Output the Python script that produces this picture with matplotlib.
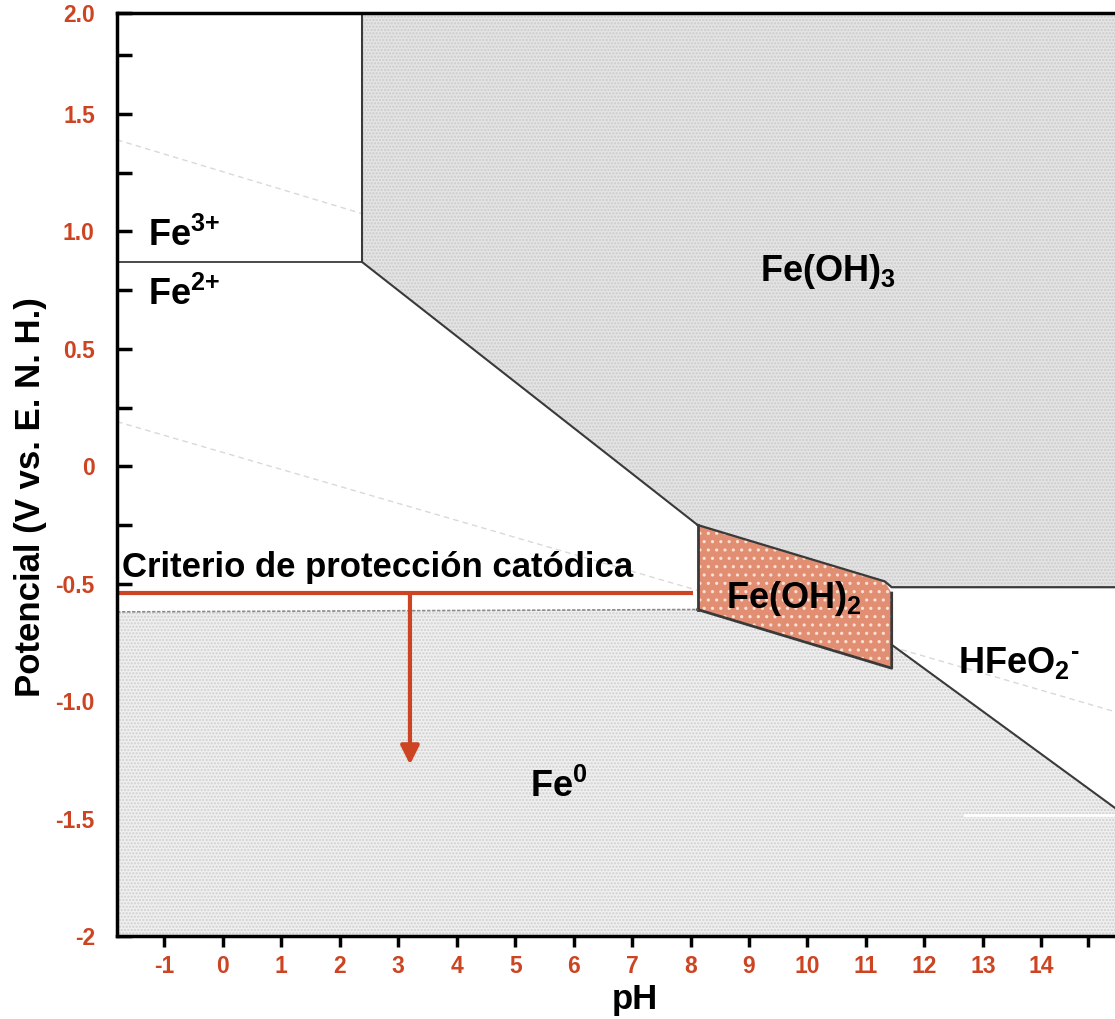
import matplotlib.pyplot as plt
from matplotlib.patches import Polygon

plt.rcParams['font.family'] = ['Liberation Sans', 'DejaVu Sans']
plt.rcParams['mathtext.fontset'] = 'custom'
plt.rcParams['mathtext.rm'] = 'Liberation Sans:bold'
plt.rcParams['mathtext.it'] = 'Liberation Sans:bold:italic'
plt.rcParams['mathtext.bf'] = 'Liberation Sans:bold'
plt.rcParams['hatch.linewidth'] = 1.1

# axis range / ticks
ph_min, ph_max = -1.81, 15.26
e_min, e_top = -2.0, 1.93
x_ticks = [-1, 0, 1, 2, 3, 4, 5, 6, 7, 8, 9, 10, 11, 12, 13, 14, 14.8]
x_labels = ['-1', '0', '1', '2', '3', '4', '5', '6', '7', '8', '9', '10', '11', '12', '13', '14', '']
y_ticks = [-2, -1.5, -1.0, -0.5, 0, 0.5, 1.0, 1.5, 1.93]
y_labels = ['-2', '-1.5', '-1.0', '-0.5', '0', '0.5', '1.0', '1.5', '2.0']
y_minor = [-1.75, -1.25, -0.75, -0.25, 0.25, 0.75, 1.25, 1.75]

# domain boundaries (pH, E)
fe3_fe2_ph = [ph_min, 2.38]
fe3_fe2_e = [0.87, 0.87]
feoh3_ph = [2.38, 2.38, 8.12, 11.32, 11.44, ph_max, ph_max]
feoh3_e = [e_top, 0.87, -0.25, -0.49, -0.515, -0.515, e_top]
feoh2_ph = [8.12, 11.32, 11.44, 11.44, 8.12]
feoh2_e = [-0.25, -0.49, -0.54, -0.86, -0.61]
fe0_ph = [ph_min, 8.12, 11.44, 11.44, ph_max, ph_max, ph_min]
fe0_e = [-0.62, -0.61, -0.86, -0.76, -1.455, e_min, e_min]
hfeo2_fe_ph = [11.44, ph_max]
hfeo2_fe_e = [-0.76, -1.455]

# water stability lines
o2_ph = [ph_min, ph_max]
o2_e = [1.39, 0.11]
h2_ph = [ph_min, ph_max]
h2_e = [0.19, -1.045]

# cathodic protection criterion
crit_ph = [ph_min, 8.04]
crit_e = [-0.54, -0.54]
arrow_ph = 3.2
arrow_e = [-0.54, -1.27]

# white streak in the Fe0 field
streak_ph = [12.7, ph_max]
streak_e = [-1.485, -1.485]

red = '#CC4422'
dark = '#3a3a3a'

fig = plt.figure(figsize=(11.15, 10.19), dpi=100)
ax = fig.add_axes([0.105, 0.0815, 0.895, 0.9057])

# faint water lines (under the fills)
ax.plot(o2_ph, o2_e, color='#d9d9d9', lw=1, ls=(0, (4, 3)), zorder=1)
ax.plot(h2_ph, h2_e, color='#d9d9d9', lw=1, ls=(0, (4, 3)), zorder=1)

ax.add_patch(Polygon(list(zip(feoh3_ph, feoh3_e)), closed=True, facecolor='#e4e4e4',
                     edgecolor='#cbcbcb', hatch='.....', lw=0, zorder=2))
ax.add_patch(Polygon(list(zip(fe0_ph, fe0_e)), closed=True, facecolor='#f0f0f0',
                     edgecolor='#cfcfcf', hatch='.....', lw=0, zorder=2))
ax.add_patch(Polygon(list(zip(feoh2_ph, feoh2_e)), closed=True, facecolor='#E28E72',
                     edgecolor='#fbe0d4', hatch='..', lw=0, zorder=3))
ax.plot(streak_ph, streak_e, color='white', lw=2, zorder=3)

# boundary lines
ax.plot(fe3_fe2_ph, fe3_fe2_e, color=dark, lw=1.3, zorder=4)
ax.plot(feoh3_ph[:3], feoh3_e[:3], color=dark, lw=1.5, zorder=4)
ax.plot(feoh3_ph[2:6], feoh3_e[2:6], color=dark, lw=1.6, zorder=4)
ax.plot([feoh2_ph[0], feoh2_ph[4]], [feoh2_e[0], feoh2_e[4]], color=dark, lw=2, zorder=4)
ax.plot(feoh2_ph[2:5], feoh2_e[2:5], color=dark, lw=2, zorder=4)
ax.plot(fe0_ph[:2], fe0_e[:2], color='#8a8a8a', lw=1.2, ls=(0, (2, 1)), zorder=4)
ax.plot(hfeo2_fe_ph, hfeo2_fe_e, color=dark, lw=1.5, zorder=4)

# criterion line and arrow
ax.plot(crit_ph, crit_e, color=red, lw=3, zorder=5, solid_capstyle='butt')
ax.annotate('', xy=(arrow_ph, arrow_e[1]), xytext=(arrow_ph, arrow_e[0]),
            arrowprops=dict(arrowstyle='-|>', color=red, lw=3, mutation_scale=28,
                            shrinkA=0, shrinkB=0), zorder=5)

# labels
kw = dict(fontsize=26, fontweight='bold', va='baseline', zorder=6)
ax.text(-1.28, 0.94, r'Fe$^{\text{3+}}$', **kw)
ax.text(-1.28, 0.685, r'Fe$^{\text{2+}}$', **kw)
ax.text(9.18, 0.79, r'Fe(OH)$_{\text{3}}$', **kw)
ax.text(8.6, -0.604, r'Fe(OH)$_{\text{2}}$', **kw)
ax.text(12.57, -0.881, r'HFeO$_{\text{2}}$$^{\text{-}}$', **kw)
ax.text(5.25, -1.409, r'Fe$^{\text{0}}$', **kw)
ax.text(-1.73, -0.472, 'Criterio de protección catódica', fontsize=25,
        fontweight='bold', va='baseline', zorder=6)

ax.set_xlim(ph_min, ph_max)
ax.set_ylim(e_min, e_top)
ax.set_xticks(x_ticks)
ax.set_xticklabels(x_labels)
ax.set_yticks(y_ticks)
ax.set_yticklabels(y_labels)
ax.set_yticks(y_minor, minor=True)
ax.tick_params(axis='x', direction='out', length=8, width=2.5, pad=6,
               labelsize=16.5, labelcolor=red)
ax.tick_params(axis='y', which='both', direction='in', length=11, width=2.5, pad=16,
               labelsize=16.5, labelcolor=red)
for lab in ax.get_xticklabels() + ax.get_yticklabels():
    lab.set_fontweight('bold')

ax.spines['right'].set_visible(False)
for s in ['left', 'top', 'bottom']:
    ax.spines[s].set_linewidth(2.5)
    ax.spines[s].set_zorder(7)

ax.text(0.519, -0.069, 'pH', transform=ax.transAxes, fontsize=25, fontweight='bold',
        ha='center', va='center')
ax.text(-0.087, 0.476, 'Potencial (V vs. E. N. H.)', transform=ax.transAxes, fontsize=25,
        fontweight='bold', ha='center', va='center', rotation=90)

fig.savefig('out.png', dpi=100)
